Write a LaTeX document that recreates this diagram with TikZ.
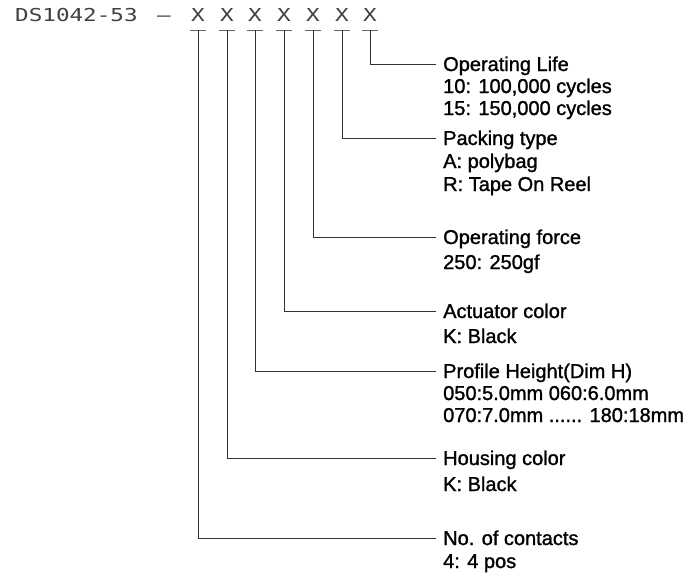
\documentclass[tikz,border=0pt]{standalone}
\usepackage{fontspec}
\setmainfont{Liberation Sans}
\newfontfamily\lblfont[FakeBold=1.3]{Liberation Sans}
\newfontfamily\hdrfont[FakeStretch=1.27]{DejaVu Sans Mono}
\usetikzlibrary{calc}
\begin{document}
\begin{tikzpicture}[x=1pt,y=-1pt,
  lbl/.style={anchor=base west, inner sep=0pt, font=\lblfont\fontsize{20}{24}\selectfont},
  hdr/.style={anchor=base west, inner sep=0pt, font=\hdrfont\fontsize{17.8}{20}\selectfont, text=black!75},
  xch/.style={anchor=base, inner sep=0pt, font=\hdrfont\fontsize{17.8}{20}\selectfont, text=black!75},
  conn/.style={line width=0.9pt, draw=black!80},
  tickbar/.style={line width=0.8pt, draw=black!60}]
\useasboundingbox (0,0) rectangle (698,581);
% header
\node[hdr] (pn) at (15,21) {DS1042-53};
\node[xch] (dash) at (164,21) {–};
\foreach \i/\x in {1/198,2/227,3/255,4/284,5/313,6/342,7/370}{
  \node[xch] (x\i) at (\x,21) {X};
  \coordinate (b\i) at (\x,30);
  \draw[tickbar] ($(b\i)+(-8,0)$) -- ($(b\i)+(8,0)$);
}
% labels
\node[lbl] (t7) at (443,71) {Operating Life};
\node[lbl] (t7a) at (443,93) {10: 100,000 cycles};
\node[lbl] (t7b) at (443,115) {15: 150,000 cycles};
\node[lbl] (t6) at (443,145) {Packing type};
\node[lbl] (t6a) at (443,168) {A: polybag};
\node[lbl] (t6b) at (443,191) {R: Tape On Reel};
\node[lbl] (t5) at (443,244) {Operating force};
\node[lbl] (t5a) at (443,269) {250: 250gf};
\node[lbl] (t4) at (443,318) {Actuator color};
\node[lbl] (t4a) at (443,343) {K: Black};
\node[lbl] (t3) at (443,378) {Profile Height(Dim H)};
\node[lbl] (t3a) at (443,400) {050:5.0mm 060:6.0mm};
\node[lbl] (t3b) at (443,422) {070:7.0mm ...... 180:18mm};
\node[lbl] (t2) at (443,465) {Housing color};
\node[lbl] (t2a) at (443,491) {K: Black};
\node[lbl] (t1) at (443,545) {No. of contacts};
\node[lbl] (t1a) at (443,568) {4: 4 pos};
% connectors
\foreach \i in {1,...,7}{
  \coordinate (e\i) at ($(t\i.base west)+(-7,-7)$);
  \draw[conn] (b\i) |- (e\i);
}
\end{tikzpicture}
\end{document}
